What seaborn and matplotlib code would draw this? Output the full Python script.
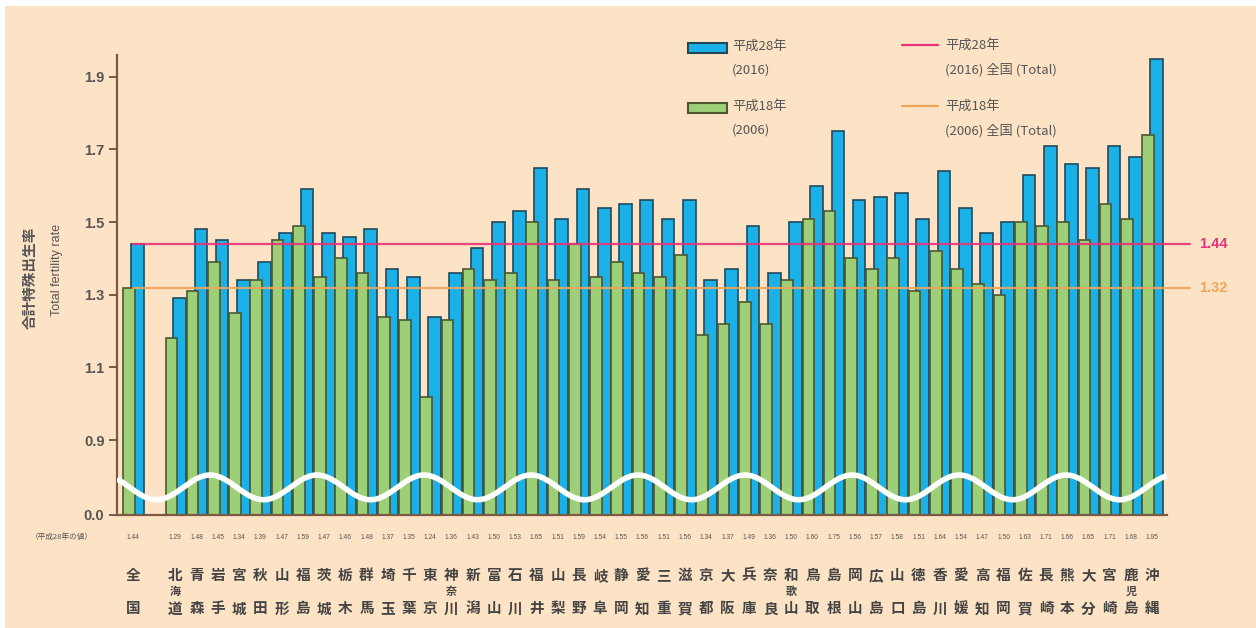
import numpy as np
import pandas as pd
import matplotlib
matplotlib.use("Agg")
import matplotlib.pyplot as plt
import seaborn as sns
from matplotlib.patches import Rectangle
from matplotlib.lines import Line2D

# ---- data -------------------------------------------------------------
regions = [
    "全国",
    "北海道", "青森", "岩手", "宮城", "秋田", "山形", "福島", "茨城", "栃木", "群馬",
    "埼玉", "千葉", "東京", "神奈川", "新潟", "富山", "石川", "福井", "山梨", "長野",
    "岐阜", "静岡", "愛知", "三重", "滋賀", "京都", "大阪", "兵庫", "奈良", "和歌山",
    "鳥取", "島根", "岡山", "広島", "山口", "徳島", "香川", "愛媛", "高知", "福岡",
    "佐賀", "長崎", "熊本", "大分", "宮崎", "鹿児島", "沖縄",
]
tfr_2016 = [
    1.44,
    1.29, 1.48, 1.45, 1.34, 1.39, 1.47, 1.59, 1.47, 1.46, 1.48,
    1.37, 1.35, 1.24, 1.36, 1.43, 1.50, 1.53, 1.65, 1.51, 1.59,
    1.54, 1.55, 1.56, 1.51, 1.56, 1.34, 1.37, 1.49, 1.36, 1.50,
    1.60, 1.75, 1.56, 1.57, 1.58, 1.51, 1.64, 1.54, 1.47, 1.50,
    1.63, 1.71, 1.66, 1.65, 1.71, 1.68, 1.95,
]
tfr_2006 = [
    1.32,
    1.18, 1.31, 1.39, 1.25, 1.34, 1.45, 1.49, 1.35, 1.40, 1.36,
    1.24, 1.23, 1.02, 1.23, 1.37, 1.34, 1.36, 1.50, 1.34, 1.44,
    1.35, 1.39, 1.36, 1.35, 1.41, 1.19, 1.22, 1.28, 1.22, 1.34,
    1.51, 1.53, 1.40, 1.37, 1.40, 1.31, 1.42, 1.37, 1.33, 1.30,
    1.50, 1.49, 1.50, 1.45, 1.55, 1.51, 1.74,
]
national_2016 = 1.44
national_2006 = 1.32
ytick_values = [0.9, 1.1, 1.3, 1.5, 1.7, 1.9]
ytick_labels = ["0.9", "1.1", "1.3", "1.5", "1.7", "1.9"]
legend_labels = ["平成28年\n(2016)", "平成18年\n(2006)",
                 "平成28年\n(2016) 全国 (Total)", "平成18年\n(2006) 全国 (Total)"]

# ---- style ------------------------------------------------------------
BG = "#fde3c5"
BLUE, BLUE_EDGE = "#1cb1e6", "#1f4a5c"
GREEN, GREEN_EDGE = "#9ccf78", "#4a5730"
PINK, ORANGE = "#e6337a", "#eea55a"
SPINE = "#7a5a44"
TXT = "#555555"

sns.set_style("white")
plt.rcParams["font.family"] = ["Noto Sans CJK JP", "DejaVu Sans"]

W, H = 1256, 628
fig = plt.figure(figsize=(W / 100, H / 100), dpi=100)
fig.patch.set_facecolor("white")
fig.patches.append(Rectangle((5 / W, 0), 1, 1 - 6 / H, transform=fig.transFigure,
                             facecolor=BG, edgecolor="none", zorder=-10))

AXIS_FLOOR = 0.694      # where the broken axis shows "0.0"
ax = fig.add_axes([117 / W, 1 - 515 / H, (1167 - 117) / W, (515 - 55) / H])
ax.set_facecolor("none")

# slot 0 is the national total, slot 1 is left empty, prefectures follow
slots = np.array([0] + list(range(2, 2 + len(regions) - 1)), dtype=float)

df_new = pd.DataFrame({"pos": slots + 0.20, "tfr": tfr_2016})
df_old = pd.DataFrame({"pos": slots - 0.19, "tfr": tfr_2006})

sns.barplot(data=df_new, x="pos", y="tfr", native_scale=True, width=0.60,
            color=BLUE, edgecolor=BLUE_EDGE, linewidth=1.2, saturation=1,
            errorbar=None, ax=ax)
sns.barplot(data=df_old, x="pos", y="tfr", native_scale=True, width=0.55,
            color=GREEN, edgecolor=GREEN_EDGE, linewidth=1.2, saturation=1,
            errorbar=None, ax=ax)

x_left, x_right = -0.75, slots[-1] + 0.7
ax.set_xlim(x_left, x_right)
ax.set_ylim(AXIS_FLOOR, 1.96)

# national reference lines, running out past the plot to their labels
line_end = slots[-1] + 1.8
for val, col in [(national_2016, PINK), (national_2006, ORANGE)]:
    ax.plot([0, line_end], [val, val], color=col, lw=1.6, alpha=0.9,
            clip_on=False, zorder=5)
    ax.text(line_end + 0.4, val, f"{val:.2f}", color=col, fontsize=10.5,
            fontweight="bold", va="center", ha="left", clip_on=False,
            family=["Liberation Sans", "DejaVu Sans"])

# white wave marking the axis break
wx = np.linspace(x_left, x_right, 600)
wy = 0.77 + 0.034 * np.cos(2 * np.pi * (wx - 3.63) / 5.04)
ax.plot(wx, wy, color="white", lw=4, zorder=6, solid_capstyle="butt")

# axes cosmetics
for s in ["top", "right"]:
    ax.spines[s].set_visible(False)
for s in ["left", "bottom"]:
    ax.spines[s].set_color(SPINE)
    ax.spines[s].set_linewidth(1.6)
ax.set_yticks([AXIS_FLOOR] + ytick_values)
ax.set_yticklabels(["0.0"] + ytick_labels, fontsize=10.5, fontweight="bold",
                   color=TXT, family=["Liberation Sans", "DejaVu Sans"])
ax.tick_params(axis="y", direction="out", length=6, width=1.4, color=SPINE,
               left=True, pad=3)
ax.set_xticks([])
ax.set_xlabel("")
ax.set_ylabel("")

# y-axis titles
fig.text(30 / W, 1 - 278 / H, "合計特殊出生率", rotation=90, ha="center", va="center",
         fontsize=10.5, fontweight="bold", color=TXT)
fig.text(57 / W, 1 - 270 / H, "Total fertility rate", rotation=90, ha="center",
         va="center", fontsize=9, color=TXT, family=["Liberation Sans", "DejaVu Sans"])

# value row and region names under the bars
xt = ax.get_xaxis_transform()
fig.text(62 / W, 1 - 537 / H, "（平成28年の値）", ha="center", va="center",
         fontsize=5.5, color=TXT)
for x, name, v in zip(slots, regions, tfr_2016):
    ax.text(x, -0.048, f"{v:.2f}", transform=xt, ha="center", va="center",
            fontsize=4.8, color=TXT, clip_on=False,
            family=["Liberation Sans", "DejaVu Sans"])
    ax.text(x, -0.130, name[0], transform=xt, ha="center", va="center",
            fontsize=10.5, fontweight="bold", color="#444444", clip_on=False)
    ax.text(x, -0.203, name[-1], transform=xt, ha="center", va="center",
            fontsize=10.5, fontweight="bold", color="#444444", clip_on=False)
    if len(name) == 3:
        ax.text(x, -0.166, name[1], transform=xt, ha="center", va="center",
                fontsize=8, fontweight="bold", color="#444444", clip_on=False)

# legend
def fx(px):
    return px / W


def fy(py):
    return 1 - py / H


for y_top, face, edge, label in [(43, BLUE, BLUE_EDGE, legend_labels[0]),
                                 (103, GREEN, GREEN_EDGE, legend_labels[1])]:
    fig.patches.append(Rectangle((fx(688), fy(y_top + 10)), 39 / W, 10 / H,
                                 transform=fig.transFigure, facecolor=face,
                                 edgecolor=edge, linewidth=1.5))
    l1, l2 = label.split("\n")
    fig.text(fx(732), fy(y_top + 3), l1, ha="left", va="center", fontsize=9.5,
             color=TXT)
    fig.text(fx(732), fy(y_top + 27), l2, ha="left", va="center", fontsize=9.5,
             color=TXT)

for y_mid, col, label in [(45, PINK, legend_labels[2]),
                          (106, ORANGE, legend_labels[3])]:
    fig.lines.append(Line2D([fx(902), fx(938)], [fy(y_mid), fy(y_mid)],
                            transform=fig.transFigure, color=col, lw=1.6))
    l1, l2 = label.split("\n")
    fig.text(fx(945), fy(y_mid), l1, ha="left", va="center", fontsize=9.5,
             color=TXT)
    fig.text(fx(945), fy(y_mid + 25), l2, ha="left", va="center", fontsize=9.5,
             color=TXT)

fig.savefig("out.png", dpi=100, facecolor=fig.get_facecolor())
